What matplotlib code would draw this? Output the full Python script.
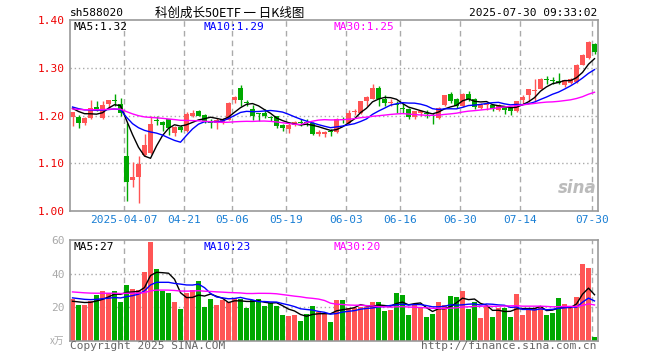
import matplotlib.pyplot as plt
import numpy as np
import pandas as pd

plt.rcParams['font.family'] = ['DejaVu Sans Mono', 'Noto Sans CJK SC']

# daily candles 2025-03-24 .. 2025-07-30
open_ = [1.196, 1.196, 1.184, 1.194, 1.217, 1.195, 1.224, 1.232, 1.224, 1.115,
         1.064, 1.071, 1.117, 1.121, 1.191, 1.187, 1.192, 1.163, 1.176, 1.168,
         1.199, 1.209, 1.202, 1.187, 1.185, 1.186, 1.191, 1.233, 1.258, 1.228,
         1.214, 1.205, 1.205, 1.197, 1.199, 1.181, 1.172, 1.181, 1.186, 1.187,
         1.185, 1.161, 1.161, 1.168, 1.165, 1.193, 1.185, 1.208, 1.206, 1.230,
         1.235, 1.258, 1.235, 1.226, 1.224, 1.216, 1.214, 1.197, 1.205, 1.206,
         1.199, 1.195, 1.221, 1.246, 1.235, 1.220, 1.246, 1.235, 1.216, 1.222,
         1.223, 1.211, 1.218, 1.216, 1.209, 1.232, 1.242, 1.252, 1.256, 1.276,
         1.274, 1.272, 1.263, 1.269, 1.270, 1.306, 1.320, 1.350]
high = [1.208, 1.201, 1.197, 1.233, 1.231, 1.230, 1.233, 1.246, 1.237, 1.184,
        1.103, 1.115, 1.162, 1.200, 1.200, 1.188, 1.193, 1.177, 1.180, 1.208,
        1.211, 1.212, 1.203, 1.193, 1.195, 1.195, 1.229, 1.241, 1.263, 1.232,
        1.222, 1.206, 1.214, 1.200, 1.200, 1.183, 1.185, 1.189, 1.192, 1.193,
        1.186, 1.169, 1.168, 1.171, 1.195, 1.197, 1.211, 1.214, 1.231, 1.240,
        1.265, 1.261, 1.242, 1.235, 1.230, 1.226, 1.215, 1.210, 1.212, 1.212,
        1.205, 1.218, 1.242, 1.249, 1.237, 1.247, 1.251, 1.237, 1.226, 1.226,
        1.224, 1.224, 1.220, 1.218, 1.231, 1.242, 1.256, 1.277, 1.278, 1.283,
        1.280, 1.290, 1.274, 1.278, 1.308, 1.329, 1.356, 1.352]
low = [1.177, 1.174, 1.181, 1.192, 1.209, 1.192, 1.216, 1.219, 1.199, 1.020,
       1.050, 1.016, 1.115, 1.120, 1.180, 1.168, 1.160, 1.158, 1.166, 1.166,
       1.197, 1.199, 1.185, 1.174, 1.171, 1.183, 1.190, 1.226, 1.220, 1.220,
       1.190, 1.188, 1.194, 1.188, 1.174, 1.167, 1.164, 1.178, 1.178, 1.178,
       1.160, 1.158, 1.155, 1.158, 1.163, 1.185, 1.183, 1.202, 1.204, 1.220,
       1.234, 1.220, 1.220, 1.220, 1.205, 1.205, 1.192, 1.192, 1.198, 1.195,
       1.183, 1.193, 1.219, 1.226, 1.216, 1.218, 1.230, 1.214, 1.214, 1.212,
       1.209, 1.209, 1.204, 1.202, 1.208, 1.225, 1.228, 1.228, 1.255, 1.267,
       1.265, 1.266, 1.260, 1.267, 1.269, 1.305, 1.319, 1.328]
close = [1.207, 1.184, 1.194, 1.216, 1.213, 1.222, 1.232, 1.230, 1.206, 1.060,
         1.072, 1.099, 1.138, 1.183, 1.189, 1.181, 1.174, 1.176, 1.169, 1.203,
         1.206, 1.200, 1.188, 1.185, 1.191, 1.192, 1.227, 1.239, 1.233, 1.226,
         1.200, 1.203, 1.199, 1.195, 1.177, 1.173, 1.181, 1.186, 1.184, 1.185,
         1.162, 1.166, 1.166, 1.165, 1.193, 1.191, 1.206, 1.210, 1.230, 1.239,
         1.258, 1.235, 1.227, 1.228, 1.222, 1.214, 1.197, 1.209, 1.209, 1.204,
         1.198, 1.216, 1.242, 1.230, 1.220, 1.246, 1.235, 1.218, 1.223, 1.224,
         1.214, 1.223, 1.211, 1.209, 1.230, 1.239, 1.255, 1.254, 1.277, 1.275,
         1.272, 1.268, 1.274, 1.276, 1.306, 1.327, 1.354, 1.332]
volume = [24.9, 21.4, 21.4, 23.8, 27.3, 29.7, 28.7, 29.7, 23.2, 33.3,
          30.8, 30.3, 41.1, 59.0, 42.8, 29.7, 28.7, 23.2, 19.0, 28.3,
          30.3, 35.7, 20.2, 25.0, 21.6, 24.4, 23.0, 25.3, 25.0, 19.8,
          24.4, 25.0, 21.0, 22.4, 21.0, 15.4, 15.0, 15.4, 11.9, 15.8,
          20.8, 17.0, 15.8, 11.5, 24.4, 24.4, 19.4, 19.4, 20.4, 20.4,
          23.4, 23.4, 17.8, 18.4, 28.5, 27.3, 15.4, 21.4, 20.4, 14.5,
          16.0, 23.4, 21.4, 26.7, 26.1, 29.7, 19.0, 23.2, 13.7, 20.8,
          14.3, 19.4, 19.4, 14.3, 27.9, 15.4, 19.4, 19.4, 20.8, 15.4,
          16.8, 25.5, 22.0, 19.4, 26.3, 45.7, 43.6, 2.4]

date_idx = [9, 19, 27, 36, 46, 55, 65, 75, 87]
date_labels = ['2025-04-07', '04-21', '05-06', '05-19', '06-03',
               '06-16', '06-30', '07-14', '07-30']

# MA levels read at the left edge of the chart
price_ma_start = {5: 1.217, 10: 1.219, 30: 1.214}
vol_ma_start = {5: 23.3, 10: 25.7, 30: 29.3}
ma_colors = {5: 'black', 10: '#0000ff', 30: '#ff00ff'}

red = '#ff5555'
green = '#00a800'
grid_c = '#aaaaaa'


def moving_avg(values, n, start):
    s = pd.Series([start] * (n - 1) + list(values))
    return s.rolling(n).mean().to_numpy()[n - 1:]


o = np.array(open_)
c = np.array(close)
x = np.arange(len(c))
up = c >= o
colors = np.where(up, red, green)

W, H = 660, 360
fig = plt.figure(figsize=(6.6, 3.6), dpi=100)
ax1 = fig.add_axes([70 / W, 1 - 211 / H, 527.5 / W, 191 / H])
ax2 = fig.add_axes([70 / W, 1 - 341 / H, 527.5 / W, 101 / H])

for ax in (ax1, ax2):
    ax.set_xlim(-0.42, 87.5)
    for s in ax.spines.values():
        s.set_color('#999999')
        s.set_linewidth(1.2)
    ax.tick_params(length=0)
    for i in date_idx:
        ax.axvline(i - 0.42, color=grid_c, ls=(0, (4, 3)), lw=1, zorder=0)

# candles
ax1.vlines(x, low, high, colors=colors, lw=1, zorder=2)
body = np.maximum(np.abs(c - o), 0.0018)
ax1.bar(x, body, bottom=np.minimum(o, c), width=0.8, color=colors, lw=0, zorder=2)
for n in (5, 10, 30):
    ax1.plot(x, moving_avg(close, n, price_ma_start[n]), color=ma_colors[n], lw=1, zorder=3)

ax1.set_ylim(1.0, 1.4)
ax1.set_yticks([1.0, 1.1, 1.2, 1.3, 1.4])
ax1.set_yticklabels(['1.00', '1.10', '1.20', '1.30', '1.40'], color='#ee0000', fontsize=8)
for v in (1.1, 1.2, 1.3):
    ax1.axhline(v, color=grid_c, ls=(0, (1, 2)), lw=1, zorder=0)
ax1.set_xticks([i - 0.42 for i in date_idx])
ax1.set_xticklabels(date_labels, color='#1a7fd4', fontsize=8)
ax1.tick_params(axis='y', pad=4)
ax1.tick_params(axis='x', pad=3)

# volume
ax2.bar(x, volume, width=0.82, color=colors, lw=0, zorder=2)
for n in (5, 10, 30):
    ax2.plot(x, moving_avg(volume, n, vol_ma_start[n]), color=ma_colors[n], lw=1, zorder=3)
ax2.set_ylim(0, 60)
ax2.set_yticks([20, 40, 60])
ax2.set_yticklabels(['20', '40', '60'], color='#aaaaaa', fontsize=8)
ax2.tick_params(axis='y', pad=4)
for v in (20, 40):
    ax2.axhline(v, color=grid_c, ls=(0, (1, 2)), lw=1, zorder=0)
ax2.set_xticks([])


def ftext(px, py, s, **kw):
    fig.text(px / W, 1 - py / H, s, va='center', **kw)


ftext(70, 13, 'sh588020', fontsize=8)
ftext(230, 13, '科创成长50ETF 一 日K线图', fontsize=9, ha='center',
      family=['Noto Sans CJK SC', 'DejaVu Sans Mono'])
ftext(597, 13, '2025-07-30 09:33:02', fontsize=8, ha='right')

ftext(74, 27, 'MA5:1.32', fontsize=8, color='black')
ftext(204, 27, 'MA10:1.29', fontsize=8, color='#0000ff')
ftext(334, 27, 'MA30:1.25', fontsize=8, color='#ff00ff')
ftext(74, 247, 'MA5:27', fontsize=8, color='black')
ftext(204, 247, 'MA10:23', fontsize=8, color='#0000ff')
ftext(334, 247, 'MA30:20', fontsize=8, color='#ff00ff')

ftext(64, 341, 'x万', fontsize=7, ha='right', color='#aaaaaa',
      family=['Noto Sans CJK SC'])
ftext(70, 346, 'Copyright 2025 SINA.COM', fontsize=8, color='#666666')
ftext(597, 346, 'http://finance.sina.com.cn', fontsize=8, ha='right', color='#666666')
ftext(597, 188, 'sina', fontsize=12, ha='right', color='#bbbbbb',
      style='italic', weight='bold', family=['DejaVu Sans'])

fig.savefig('out.png', dpi=100, facecolor='white')
